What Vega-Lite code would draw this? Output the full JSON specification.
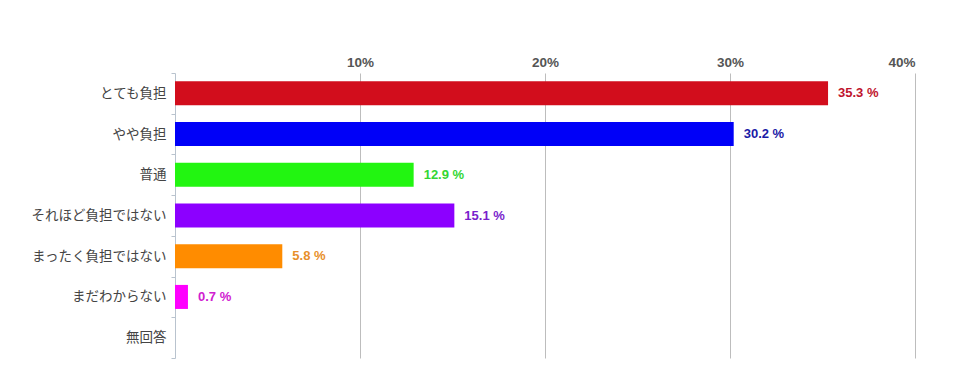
{
  "$schema": "https://vega.github.io/schema/vega-lite/v6.json",
  "width": 740,
  "height": 285,
  "autosize": {"type": "none"},
  "padding": {"left": 175, "top": 73, "right": 48, "bottom": 17},
  "background": "white",
  "config": {"view": {"stroke": null}},
  "data": {
    "values": [
      {"cat": "とても負担", "value": 35.3, "label": "35.3 %"},
      {"cat": "やや負担", "value": 30.2, "label": "30.2 %"},
      {"cat": "普通", "value": 12.9, "label": "12.9 %"},
      {"cat": "それほど負担ではない", "value": 15.1, "label": "15.1 %"},
      {"cat": "まったく負担ではない", "value": 5.8, "label": "5.8 %"},
      {"cat": "まだわからない", "value": 0.7, "label": "0.7 %"},
      {"cat": "無回答", "value": 0, "label": ""}
    ]
  },
  "encoding": {
    "y": {
      "field": "cat",
      "type": "nominal",
      "sort": null,
      "scale": {"paddingInner": 0, "paddingOuter": 0},
      "axis": {
        "title": null,
        "tickBand": "extent",
        "domainColor": "#B9C3CE",
        "tickColor": "#B9C3CE",
        "tickSize": 4,
        "labelPadding": 5,
        "labelFont": "Noto Sans CJK JP",
        "labelFontSize": 13.5,
        "labelColor": "#444444"
      }
    },
    "x": {
      "field": "value",
      "type": "quantitative",
      "scale": {"domain": [0, 40], "nice": false},
      "axis": {
        "orient": "top",
        "title": null,
        "values": [10, 20, 30, 40],
        "labelExpr": "datum.value + '%'",
        "domain": false,
        "ticks": false,
        "grid": true,
        "gridColor": "#BDBDBD",
        "gridWidth": 1,
        "labelPadding": 4,
        "labelFont": "Liberation Sans",
        "labelFontSize": 13.5,
        "labelFontWeight": "bold",
        "labelColor": "#555555"
      }
    }
  },
  "layer": [
    {
      "mark": {"type": "bar", "height": {"band": 0.59}},
      "encoding": {
        "color": {
          "field": "cat",
          "type": "nominal",
          "legend": null,
          "scale": {
            "domain": ["とても負担", "やや負担", "普通", "それほど負担ではない", "まったく負担ではない", "まだわからない", "無回答"],
            "range": ["#D20D1C", "#0000F8", "#22F511", "#8C00FF", "#FF8C00", "#FF00FF", "#999999"]
          }
        }
      }
    },
    {
      "transform": [{"filter": "datum.value > 0"}],
      "mark": {
        "type": "text",
        "align": "left",
        "baseline": "middle",
        "dx": 10,
        "font": "Liberation Sans",
        "fontSize": 13,
        "fontWeight": "bold"
      },
      "encoding": {
        "text": {"field": "label"},
        "color": {
          "field": "cat",
          "type": "nominal",
          "legend": null,
          "scale": {
            "domain": ["とても負担", "やや負担", "普通", "それほど負担ではない", "まったく負担ではない", "まだわからない", "無回答"],
            "range": ["#C0142C", "#1A1AA6", "#33D633", "#7A1ECC", "#E8902A", "#D020D0", "#999999"]
          }
        }
      }
    }
  ],
  "resolve": {"scale": {"color": "independent"}}
}
